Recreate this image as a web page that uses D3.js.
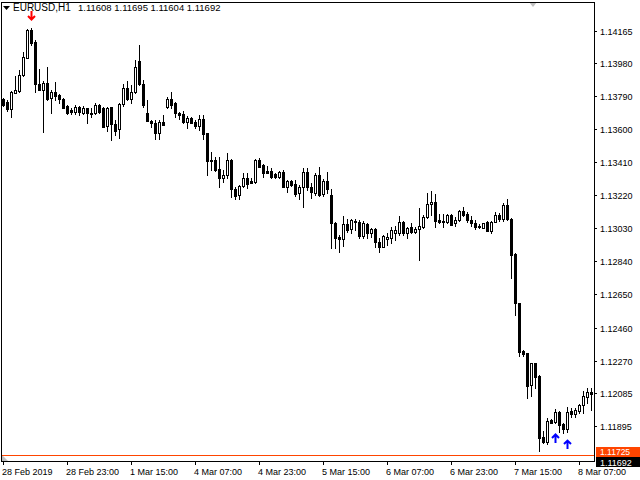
<!DOCTYPE html>
<html><head><meta charset="utf-8">
<script src="https://cdn.jsdelivr.net/npm/d3@7"></script>
<style>html,body{margin:0;padding:0;background:#fff;overflow:hidden}</style>
</head><body>
<svg id="c" width="640" height="480"></svg>
<script>
const symbol = "EURUSD,H1";
const headerQuote = ["1.11608", "1.11695", "1.11604", "1.11692"];

const open = [1.13772,1.13758,1.13715,1.13810,1.13820,1.13912,1.14011,1.14171,1.14103,1.13860,
1.13826,1.13868,1.13778,1.13816,1.13797,1.13774,1.13734,1.13711,1.13701,1.13726,
1.13692,1.13720,1.13693,1.13692,1.13740,1.13720,1.13619,1.13726,1.13630,1.13600,
1.13743,1.13835,1.13774,1.13816,1.13993,1.13860,1.13695,1.13648,1.13634,1.13577,
1.13644,1.13730,1.13774,1.13753,1.13695,1.13688,1.13644,1.13665,1.13644,1.13620,
1.13659,1.13578,1.13425,1.13423,1.13372,1.13322,1.13337,1.13423,1.13257,1.13222,
1.13276,1.13322,1.13303,1.13299,1.13423,1.13395,1.13360,1.13362,1.13341,1.13327,
1.13353,1.13270,1.13303,1.13285,1.13232,1.13266,1.13353,1.13270,1.13232,1.13337,
1.13228,1.13304,1.13222,1.13059,1.12982,1.12967,1.13053,1.13025,1.13068,1.13068,
1.12986,1.13053,1.13002,1.13025,1.12950,1.12925,1.12967,1.12973,1.13002,1.13002,
1.13068,1.13005,1.13036,1.13011,1.13025,1.13036,1.13094,1.13169,1.13184,1.13078,
1.13072,1.13068,1.13107,1.13059,1.13078,1.13130,1.13113,1.13078,1.13059,1.13044,
1.13034,1.13068,1.13017,1.13068,1.13107,1.13082,1.13165,1.13082,1.12883,1.12599,
1.12325,1.12312,1.12130,1.12254,1.12183,1.11832,1.11804,1.11928,1.11915,1.11976,
1.11905,1.11875,1.11982,1.11961,1.11982,1.12015,1.12062,1.12091];

const high = [1.13778,1.13768,1.13822,1.13906,1.13941,1.14046,1.14175,1.14180,1.14113,1.13945,
1.13879,1.13960,1.13826,1.13873,1.13803,1.13777,1.13740,1.13720,1.13740,1.13734,
1.13734,1.13722,1.13720,1.13749,1.13745,1.13726,1.13726,1.13730,1.13653,1.13749,
1.13860,1.13877,1.13854,1.13998,1.14084,1.13883,1.13768,1.13653,1.13653,1.13653,
1.13682,1.13784,1.13814,1.13755,1.13701,1.13705,1.13676,1.13672,1.13653,1.13682,
1.13682,1.13580,1.13467,1.13439,1.13442,1.13366,1.13462,1.13427,1.13270,1.13280,
1.13350,1.13350,1.13322,1.13427,1.13433,1.13400,1.13389,1.13375,1.13350,1.13362,
1.13366,1.13308,1.13308,1.13308,1.13280,1.13375,1.13377,1.13293,1.13347,1.13385,
1.13312,1.13356,1.13257,1.13068,1.12992,1.13101,1.13082,1.13084,1.13084,1.13078,
1.13073,1.13063,1.13031,1.13031,1.12973,1.12992,1.13002,1.13036,1.13044,1.13101,
1.13070,1.13036,1.13059,1.13040,1.13146,1.13107,1.13232,1.13245,1.13226,1.13113,
1.13113,1.13113,1.13113,1.13097,1.13136,1.13155,1.13126,1.13101,1.13078,1.13055,
1.13063,1.13070,1.13074,1.13126,1.13117,1.13178,1.13197,1.13088,1.12887,1.12603,
1.12331,1.12315,1.12258,1.12258,1.12185,1.11867,1.11938,1.11932,1.11990,1.11982,
1.11909,1.12001,1.11996,1.11996,1.12019,1.12095,1.12110,1.12114];

const low = [1.13734,1.13707,1.13669,1.13808,1.13816,1.13906,1.14008,1.14084,1.13816,1.13823,
1.13586,1.13768,1.13695,1.13768,1.13753,1.13720,1.13686,1.13688,1.13686,1.13682,
1.13688,1.13634,1.13672,1.13688,1.13695,1.13611,1.13590,1.13538,1.13567,1.13548,
1.13734,1.13768,1.13749,1.13810,1.13854,1.13726,1.13645,1.13611,1.13542,1.13546,
1.13622,1.13720,1.13720,1.13672,1.13661,1.13634,1.13609,1.13634,1.13606,1.13596,
1.13544,1.13337,1.13366,1.13360,1.13270,1.13299,1.13318,1.13212,1.13197,1.13197,
1.13270,1.13261,1.13289,1.13293,1.13383,1.13327,1.13347,1.13318,1.13322,1.13322,
1.13266,1.13237,1.13274,1.13218,1.13197,1.13155,1.13251,1.13203,1.13222,1.13216,
1.13218,1.13235,1.12916,1.12916,1.12896,1.12929,1.13011,1.13005,1.13021,1.12973,
1.12973,1.12973,1.12982,1.12925,1.12896,1.12921,1.12935,1.12944,1.12963,1.12992,
1.12992,1.12973,1.13002,1.13002,1.12848,1.13031,1.13088,1.13107,1.13040,1.13059,
1.13040,1.13063,1.13048,1.13044,1.13074,1.13101,1.13068,1.13044,1.13025,1.13034,
1.13031,1.13015,1.13002,1.13065,1.13074,1.13074,1.13078,1.12743,1.12532,1.12296,
1.12296,1.12053,1.12066,1.12110,1.11752,1.11794,1.11790,1.11909,1.11909,1.11861,
1.11852,1.11857,1.11947,1.11947,1.11967,1.11970,1.12024,1.11986];

const close = [1.13740,1.13715,1.13816,1.13826,1.13912,1.14014,1.14171,1.14098,1.13858,1.13826,
1.13868,1.13774,1.13816,1.13791,1.13772,1.13724,1.13695,1.13699,1.13730,1.13699,
1.13720,1.13692,1.13688,1.13740,1.13701,1.13615,1.13720,1.13630,1.13592,1.13743,
1.13835,1.13774,1.13816,1.13960,1.13860,1.13740,1.13648,1.13634,1.13577,1.13644,
1.13625,1.13774,1.13740,1.13692,1.13684,1.13644,1.13666,1.13638,1.13619,1.13659,
1.13573,1.13419,1.13419,1.13366,1.13322,1.13337,1.13423,1.13255,1.13218,1.13276,
1.13322,1.13285,1.13293,1.13423,1.13385,1.13350,1.13350,1.13327,1.13327,1.13353,
1.13270,1.13303,1.13280,1.13228,1.13270,1.13354,1.13266,1.13237,1.13337,1.13222,
1.13304,1.13255,1.13059,1.12973,1.12967,1.13053,1.13021,1.13078,1.13074,1.12988,
1.13063,1.13002,1.13025,1.12950,1.12925,1.12986,1.12982,1.13021,1.13021,1.13068,
1.13002,1.13031,1.13011,1.13027,1.13044,1.13094,1.13169,1.13184,1.13074,1.13067,
1.13067,1.13107,1.13052,1.13078,1.13130,1.13107,1.13078,1.13059,1.13040,1.13036,
1.13059,1.13017,1.13068,1.13107,1.13084,1.13165,1.13084,1.12877,1.12599,1.12321,
1.12306,1.12125,1.12254,1.12177,1.11823,1.11804,1.11923,1.11913,1.11976,1.11900,
1.11875,1.11976,1.11961,1.11986,1.12015,1.12066,1.12091,1.12076];

const yTicks = [1.14165,1.13980,1.13790,1.13600,1.13410,1.13220,1.13030,1.12840,1.12650,1.12460,1.12270,1.12085,1.11895];
const xTickIndex = [0,16,32,48,64,80,96,112,128,144];
const xTickLabels = ["28 Feb 2019","28 Feb 23:00","1 Mar 15:00","4 Mar 07:00","4 Mar 23:00","5 Mar 15:00","6 Mar 07:00","6 Mar 23:00","7 Mar 15:00","8 Mar 07:00"];
const sellArrowIndex = [7];
const sellArrowPrice = [1.14228];
const buyArrowIndex = [138, 141];
const buyArrowPrice = [1.11848, 1.11813];
const levelPrice = 1.11725;
const bidPrice = 1.11692;

const FONT = "'Liberation Sans', Arial, sans-serif";
const svg = d3.select("#c");
const n = open.length;
const x = d3.scaleLinear().domain([0, n - 1]).range([3, 591]);
const y = d3.scaleLinear().domain([1.116925, 1.143318]).range([461, 2]);
const px = i => Math.round(x(i));
const py = v => Math.round(y(v));

svg.append("rect").attr("width", 640).attr("height", 480).attr("fill", "#fff");

// chart shift marker & small grey corner
svg.append("path").attr("d", "M529,2L537,2L533,7Z").attr("fill", "#c0c0c0");
svg.append("path").attr("d", "M2,455L2,461L8,461Z").attr("fill", "#c0c0c0");

// level line
svg.append("rect").attr("x", 2).attr("y", py(levelPrice)).attr("width", 592).attr("height", 1).attr("fill", "#ff4500");

const data = d3.range(n).map(i => ({i, o: open[i], h: high[i], l: low[i], c: close[i]}));
const g = svg.append("g").attr("shape-rendering", "crispEdges");
g.selectAll("rect.wick").data(data).join("rect").attr("class", "wick")
  .attr("x", d => px(d.i)).attr("y", d => py(d.h))
  .attr("width", 1).attr("height", d => py(d.l) - py(d.h) + 1).attr("fill", "#000");
g.selectAll("rect.body").data(data).join("rect").attr("class", "body")
  .attr("x", d => px(d.i) - 1).attr("y", d => py(Math.max(d.o, d.c)))
  .attr("width", 3).attr("height", d => py(Math.min(d.o, d.c)) - py(Math.max(d.o, d.c)) + 1)
  .attr("fill", "#000");
g.selectAll("rect.hole").data(data.filter(d => d.c > d.o && py(d.o) - py(d.c) >= 2)).join("rect").attr("class", "hole")
  .attr("x", d => px(d.i)).attr("y", d => py(d.c) + 1)
  .attr("width", 1).attr("height", d => py(d.o) - py(d.c) - 1)
  .attr("fill", "#fff");

// arrows
sellArrowIndex.forEach((idx, k) => {
  const cx = px(idx) + 0.5, ty = y(sellArrowPrice[k]);
  svg.append("path").attr("d", `M${cx - 3.5},${ty - 4}L${cx},${ty - 0.5}L${cx + 3.5},${ty - 4}M${cx},${ty - 1}V${ty - 9}`)
    .attr("stroke", "#ff0000").attr("stroke-width", 2).attr("fill", "none");
});
buyArrowIndex.forEach((idx, k) => {
  const cx = px(idx) + 0.5, ty = y(buyArrowPrice[k]);
  svg.append("path").attr("d", `M${cx - 3.5},${ty + 4}L${cx},${ty + 0.5}L${cx + 3.5},${ty + 4}M${cx},${ty + 1}V${ty + 9}`)
    .attr("stroke", "#0000ff").attr("stroke-width", 2).attr("fill", "none");
});

// frame
svg.append("rect").attr("x", 1.5).attr("y", 2.5).attr("width", 593).attr("height", 459)
  .attr("fill", "none").attr("stroke", "#000").attr("shape-rendering", "crispEdges");

// right axis
const ra = svg.append("g");
yTicks.forEach(v => {
  ra.append("rect").attr("x", 595).attr("y", py(v)).attr("width", 2).attr("height", 1).attr("fill", "#000");
  ra.append("text").attr("x", 600).attr("y", py(v) + 4).attr("font-family", FONT).attr("font-size", 9)
    .attr("fill", "#000").text(v.toFixed(5));
});

// price labels
const ly = py(levelPrice);
svg.append("rect").attr("x", 596).attr("y", ly - 8).attr("width", 44).attr("height", 10).attr("fill", "#ff4500");
svg.append("text").attr("x", 600).attr("y", ly).attr("font-family", FONT).attr("font-size", 8.5).attr("fill", "#fff").text(levelPrice.toFixed(5));
const by = py(bidPrice);
svg.append("rect").attr("x", 596).attr("y", by - 4).attr("width", 44).attr("height", 10).attr("fill", "#000");
svg.append("text").attr("x", 600).attr("y", by + 5).attr("font-family", FONT).attr("font-size", 9).attr("fill", "#fff").text(bidPrice.toFixed(5));

// bottom axis
xTickIndex.forEach((idx, k) => {
  svg.append("rect").attr("x", px(idx)).attr("y", 462).attr("width", 1).attr("height", 3).attr("fill", "#000");
  svg.append("text").attr("x", px(idx) - 1).attr("y", 475).attr("font-family", FONT).attr("font-size", 9)
    .attr("fill", "#000").text(xTickLabels[k]);
});

// header
svg.append("path").attr("d", "M3,6L10,6L6.5,10Z").attr("fill", "#000");
svg.append("text").attr("x", 13).attr("y", 11).attr("font-family", FONT).attr("font-size", 10).attr("fill", "#000").text(symbol);
svg.append("text").attr("x", 78).attr("y", 11).attr("font-family", FONT).attr("font-size", 9.5).attr("fill", "#000")
  .text(headerQuote.join(" "));
</script>
</body></html>
